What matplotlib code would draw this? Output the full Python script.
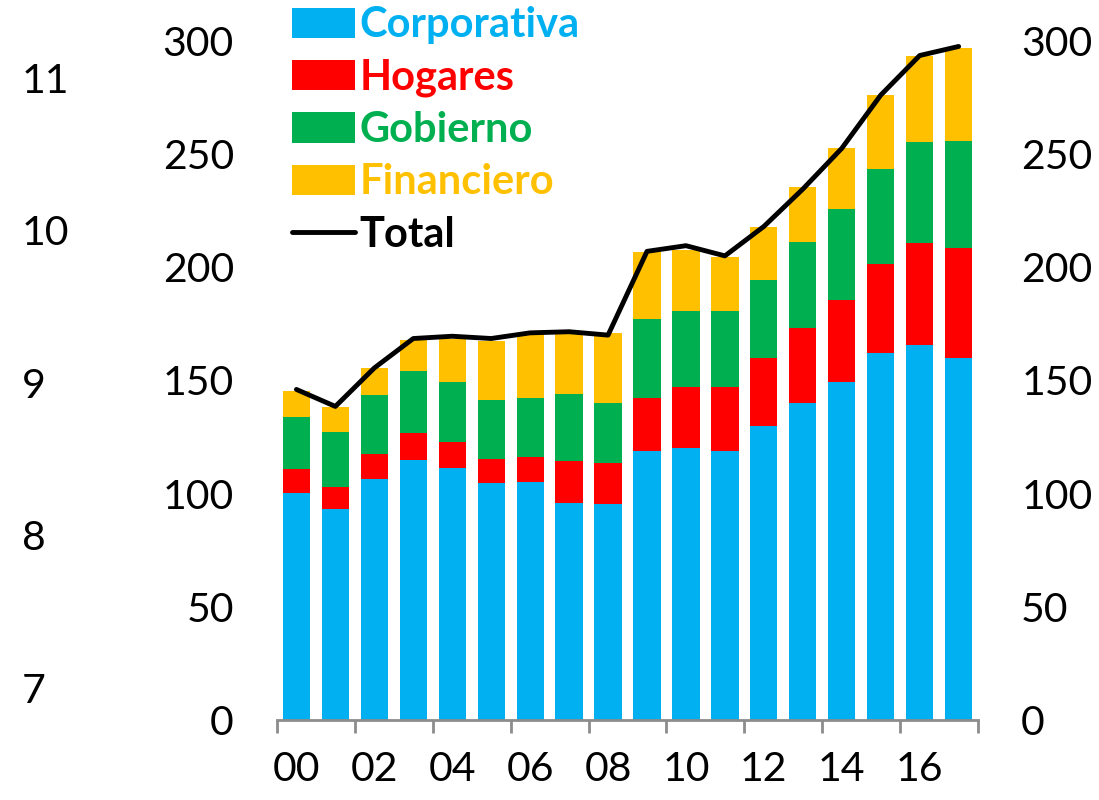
import matplotlib.pyplot as plt
import numpy as np

plt.rcParams['font.family'] = ['Lato', 'DejaVu Sans']

years = ['00', '01', '02', '03', '04', '05', '06', '07', '08',
         '09', '10', '11', '12', '13', '14', '15', '16', '17']

corporativa = [100.3, 93.1, 106.6, 114.9, 111.2, 104.6, 105.3, 95.7, 95.3,
               119.0, 120.1, 119.0, 129.9, 140.2, 149.4, 162.3, 165.8, 159.8]
hogares = [10.6, 9.7, 10.8, 11.9, 11.5, 10.7, 10.9, 18.9, 18.1,
           23.4, 26.9, 28.0, 29.9, 32.9, 35.9, 39.2, 44.8, 48.6]
gobierno = [23.0, 24.5, 26.1, 27.3, 26.7, 26.2, 26.1, 29.3, 26.8,
            34.9, 33.7, 33.7, 34.6, 37.9, 40.4, 41.8, 44.5, 47.5]
financiero = [11.5, 10.9, 11.9, 13.8, 19.0, 26.0, 28.7, 28.0, 30.8,
              29.2, 27.0, 23.6, 23.3, 24.4, 27.1, 32.6, 38.0, 40.9]
total = [146.0, 138.5, 155.5, 168.5, 169.5, 168.5, 171.0, 171.5, 170.0,
         207.0, 209.5, 205.0, 218.0, 234.5, 252.5, 276.0, 293.5, 297.5]

left_ticks = [0, 50, 100, 150, 200, 250, 300]
far_left_ticks = [7, 8, 9, 10, 11]

COLORS = {
    'Corporativa': '#00B0F0',
    'Hogares': '#FF0000',
    'Gobierno': '#00B050',
    'Financiero': '#FFC000',
}

TICK_SIZE = 29.5

fig = plt.figure(figsize=(10.99, 8), dpi=100)
ax = fig.add_axes([0.252, 0.1, 0.638, 0.849])

x = np.arange(len(years))
bottom = np.zeros(len(years))
for name, vals in [('Corporativa', corporativa), ('Hogares', hogares),
                   ('Gobierno', gobierno), ('Financiero', financiero)]:
    ax.bar(x, vals, 0.7, bottom=bottom, color=COLORS[name], label=name, zorder=2)
    bottom += np.array(vals)

ax.plot(x, total, color='black', lw=3.5, label='Total', zorder=3,
        solid_joinstyle='round', solid_capstyle='round')

ax.set_xlim(-0.5, len(years) - 0.5)
ax.set_ylim(0, 300)
ax.set_yticks(left_ticks)
ax.tick_params(axis='y', length=0, pad=31, labelsize=TICK_SIZE)

# x axis: tick marks at boundaries every 2 years, labels centred on even bars
ax.set_xticks(np.arange(-0.5, len(years), 2))
ax.set_xticklabels([])
ax.set_xticks(x[::2], minor=True)
ax.set_xticklabels(years[::2], minor=True)
ax.tick_params(axis='x', which='major', length=9, width=2, color='#8c8c8c', direction='out')
ax.tick_params(axis='x', which='minor', length=0, pad=22, labelsize=TICK_SIZE)

for s in ['top', 'left', 'right']:
    ax.spines[s].set_visible(False)
ax.spines['bottom'].set_color('#8c8c8c')
ax.spines['bottom'].set_linewidth(2)

# right axis
ax2 = ax.twinx()
ax2.set_ylim(0, 300)
ax2.set_yticks(left_ticks)
ax2.tick_params(axis='y', length=0, pad=31, labelsize=TICK_SIZE)
for s in ax2.spines.values():
    s.set_visible(False)

# leftover far-left axis
ax3 = ax.twinx()
ax3.yaxis.tick_left()
ax3.set_ylim(6.79, 11.243)
ax3.set_yticks(far_left_ticks)
ax3.tick_params(axis='y', length=0, pad=183.6, labelsize=TICK_SIZE)
for lbl in ax3.get_yticklabels():
    lbl.set_horizontalalignment('left')
for s in ax3.spines.values():
    s.set_visible(False)

handles, labels = ax.get_legend_handles_labels()
order = [1, 2, 3, 4, 0]
handles = [handles[i] for i in order]
labels = [labels[i] for i in order]
leg = fig.legend(handles, labels, loc='upper left', bbox_to_anchor=(0.2657, 0.992),
                 frameon=False, borderpad=0, borderaxespad=0,
                 handlelength=1.5, handleheight=0.75, handletextpad=0.12,
                 labelspacing=0.34, prop={'weight': 'bold', 'size': 30})
for txt, name in zip(leg.get_texts(), labels):
    txt.set_color(COLORS.get(name, 'black'))

plt.savefig('out.png', dpi=100, facecolor='white')
plt.close()
